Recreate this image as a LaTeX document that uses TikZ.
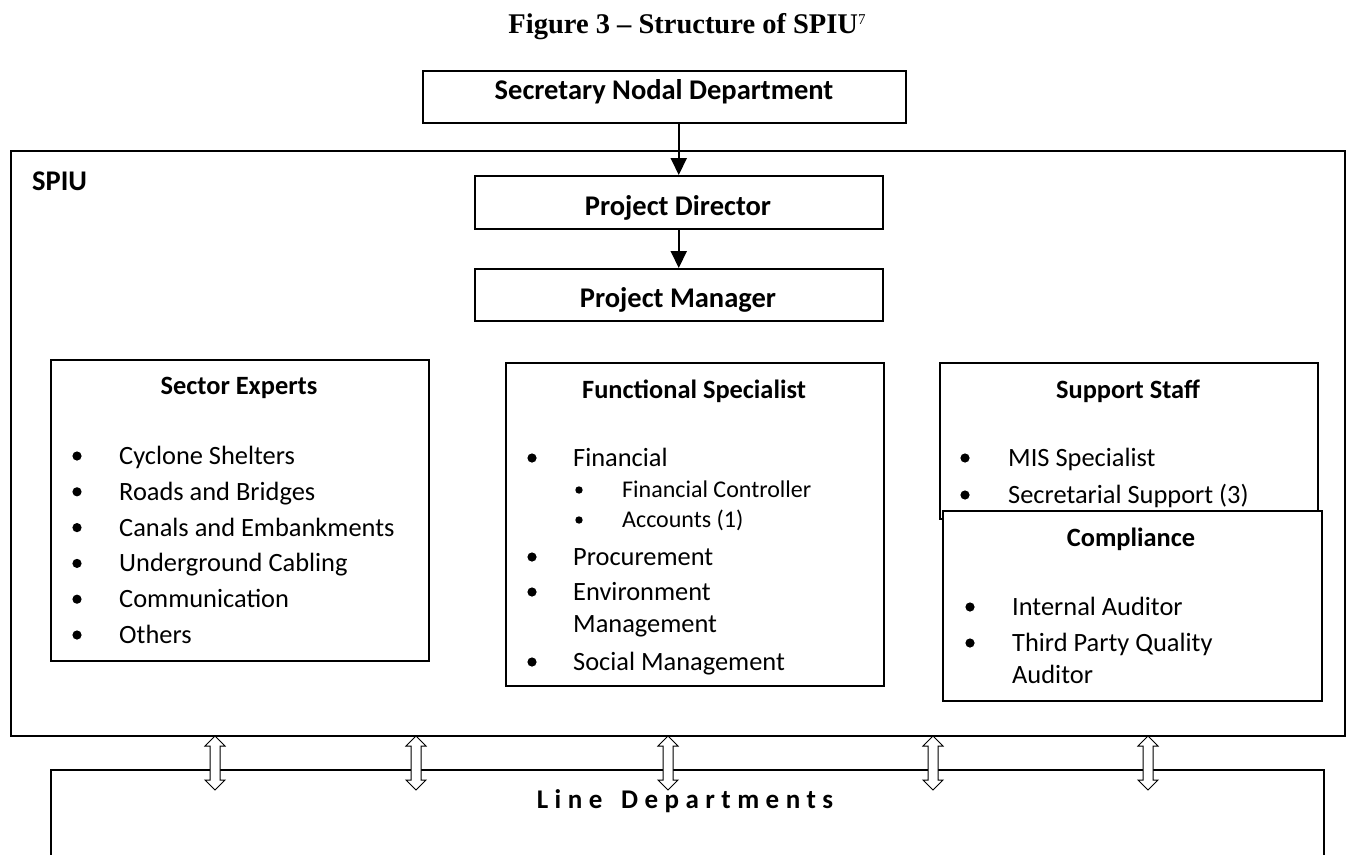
\documentclass[tikz,border=0pt]{standalone}
\usepackage{fontspec}
\setmainfont{Carlito}
\newfontfamily\captionfont{Liberation Serif}
\usetikzlibrary{arrows.meta,calc}

\begin{document}
\begin{tikzpicture}[x=1pt,y=-1pt,
  unitbox/.style={draw, rectangle, line width=1.5pt, fill=white, inner sep=0pt, anchor=north west},
  headtext/.style={font=\fontsize{28.5}{34}\selectfont\bfseries, anchor=base, inner sep=0pt},
  titletext/.style={font=\fontsize{26.4}{32}\selectfont\bfseries, anchor=base, inner sep=0pt},
  itemtext/.style={font=\fontsize{26.4}{32}\selectfont, anchor=base west, inner sep=0pt},
  subtext/.style={font=\fontsize{24}{29}\selectfont, anchor=base west, inner sep=0pt},
  flow/.style={line width=2pt, -{Triangle[length=17pt,width=16pt]}},
  updown/.style={fill=white, draw, line width=1pt, line join=miter},
]
\useasboundingbox (0,0) rectangle (1346,854);
\clip (0,0) rectangle (1346,854);

% caption
\node[anchor=base, inner sep=0pt, font=\captionfont\fontsize{28.5}{34}\selectfont\bfseries]
  (caption) at (687,33) {Figure 3 – Structure of SPIU\raisebox{9pt}{\fontsize{15}{18}\selectfont\mdseries 7}};

% line departments (runs past the lower edge)
\node[unitbox, minimum width=1273pt, minimum height=140pt] (line) at (50,769) {};
\node[titletext, font=\fontsize{27}{32}\selectfont\bfseries\addfontfeature{LetterSpace=24}]
  (linelabel) at (685,808) {Line\hspace{6pt} Departments};

% top of the hierarchy
\node[unitbox, minimum width=483pt, minimum height=52pt] (snd) at (422,70) {};
\node[headtext] (sndlabel) at (664,99.5) {Secretary Nodal Department};

% the SPIU frame
\node[unitbox, line width=2pt, minimum width=1334pt, minimum height=585pt] (spiu) at (10,150) {};
\node[headtext, anchor=base west] (spiulabel) at (32,190) {SPIU};

\node[unitbox, minimum width=408pt, minimum height=53pt] (pd) at (474,175) {};
\node[headtext] (pdlabel) at (678,215) {Project Director};
\node[unitbox, minimum width=408pt, minimum height=52pt] (pm) at (474,268) {};
\node[headtext] (pmlabel) at (678,307) {Project Manager};

\draw[flow] (pd.north |- snd.south) -- (pd.north);
\draw[flow] (pd.south) -- (pm.north);

% sector experts
\node[unitbox, minimum width=378pt, minimum height=301pt] (sector) at (50,359) {};
\node[titletext] (sectortitle) at (239,394.5) {Sector Experts};
\foreach \t [count=\i] in {Cyclone Shelters, Roads and Bridges, Canals and Embankments,
    Underground Cabling, Communication, Others} {
  \pgfmathsetmacro{\yy}{456+(\i-1)*35.8}
  \fill (77,\yy) circle (4.6pt);
  \node[itemtext] (se\i) at (119,\yy+8.5) {\t};
}

% functional specialists
\node[unitbox, minimum width=378pt, minimum height=323pt] (func) at (505,362) {};
\node[titletext] (functitle) at (694,398.5) {Functional Specialist};
\fill (532,458) circle (4.6pt);
\node[itemtext] (fs1) at (573,466.5) {Financial};
\fill (579,490) circle (3.7pt);
\node[subtext] (fs1a) at (622,497.7) {Financial Controller};
\fill (579,520) circle (3.7pt);
\node[subtext] (fs1b) at (622,527.7) {Accounts (1)};
\fill (532,557) circle (4.6pt);
\node[itemtext] (fs2) at (573,565.5) {Procurement};
\fill (532,592) circle (4.6pt);
\node[itemtext] (fs3) at (573,600.5) {Environment};
\node[itemtext] (fs3b) at (573,632.5) {Management};
\fill (532,662) circle (4.6pt);
\node[itemtext] (fs4) at (573,670.5) {Social Management};

% support staff
\node[unitbox, minimum width=378pt, minimum height=156pt] (support) at (939,362) {};
\node[titletext] (supporttitle) at (1128,398.5) {Support Staff};
\fill (965,458) circle (4.6pt);
\node[itemtext] (ss1) at (1008,466.5) {MIS Specialist};
\fill (965,495) circle (4.6pt);
\node[itemtext] (ss2) at (1008,503.5) {Secretarial Support (3)};

% compliance, laid over the support staff box
\node[unitbox, minimum width=379pt, minimum height=190pt] (compliance) at (942,510) {};
\node[titletext] (compliancetitle) at (1131,546.5) {Compliance};
\fill (970,607) circle (4.6pt);
\node[itemtext] (cp1) at (1012,615.5) {Internal Auditor};
\fill (970,643) circle (4.6pt);
\node[itemtext] (cp2) at (1012,651.5) {Third Party Quality};
\node[itemtext] (cp2b) at (1012,683.5) {Auditor};

% two-way links between the SPIU and the line departments
\foreach \ax in {215,416,668,933,1148} {
  \filldraw[updown] (\ax,736) -- (\ax+10,746) -- (\ax+5,746) -- (\ax+5,780)
    -- (\ax+10,780) -- (\ax,790) -- (\ax-10,780) -- (\ax-5,780)
    -- (\ax-5,746) -- (\ax-10,746) -- cycle;
}
\end{tikzpicture}
\end{document}
